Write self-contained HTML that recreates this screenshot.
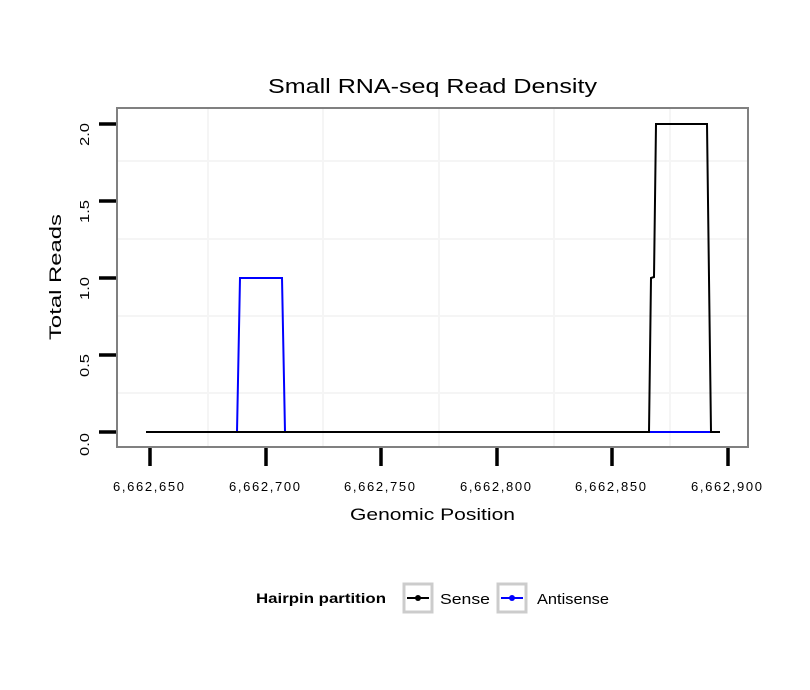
<!DOCTYPE html>
<html><head><style>body{margin:0;background:#fff}svg{display:block}text{font-family:"Liberation Sans",sans-serif}</style></head><body>
<svg width="810" height="690" xmlns="http://www.w3.org/2000/svg">
<rect width="810" height="690" fill="#fff"/>
<text x="268" y="93" font-size="20" textLength="329" lengthAdjust="spacingAndGlyphs">Small RNA-seq Read Density</text>
<g stroke="#f5f5f5" stroke-width="2">
<line x1="208" y1="108" x2="208" y2="447"/><line x1="323" y1="108" x2="323" y2="447"/><line x1="439" y1="108" x2="439" y2="447"/><line x1="554" y1="108" x2="554" y2="447"/><line x1="670" y1="108" x2="670" y2="447"/>
<line x1="117" y1="161" x2="748" y2="161"/><line x1="117" y1="239" x2="748" y2="239"/><line x1="117" y1="316" x2="748" y2="316"/><line x1="117" y1="393" x2="748" y2="393"/>
</g>
<g stroke="#000" stroke-width="3.5">
<line x1="99" y1="124" x2="117" y2="124"/><line x1="99" y1="201" x2="117" y2="201"/><line x1="99" y1="278" x2="117" y2="278"/><line x1="99" y1="355" x2="117" y2="355"/><line x1="99" y1="432" x2="117" y2="432"/>
<line x1="150" y1="448" x2="150" y2="466"/><line x1="266" y1="448" x2="266" y2="466"/><line x1="381" y1="448" x2="381" y2="466"/><line x1="497" y1="448" x2="497" y2="466"/><line x1="612" y1="448" x2="612" y2="466"/><line x1="728" y1="448" x2="728" y2="466"/>
</g>
<polyline fill="none" stroke="#00f" stroke-width="2" points="237,432 240,278 282,278 285,432"/>
<line x1="650" y1="432" x2="711" y2="432" stroke="#00f" stroke-width="2"/>
<polyline fill="none" stroke="#000" stroke-width="2" points="146,432 649,432 651,278 654,277 656,124 707,124 711,432 720,432"/>
<rect x="117" y="108" width="631" height="339" fill="none" stroke="#808080" stroke-width="2"/>
<g font-size="13">
<text transform="translate(89,146) rotate(-90)" textLength="23" lengthAdjust="spacingAndGlyphs">2.0</text>
<text transform="translate(89,223) rotate(-90)" textLength="23" lengthAdjust="spacingAndGlyphs">1.5</text>
<text transform="translate(89,300) rotate(-90)" textLength="23" lengthAdjust="spacingAndGlyphs">1.0</text>
<text transform="translate(89,377) rotate(-90)" textLength="23" lengthAdjust="spacingAndGlyphs">0.5</text>
<text transform="translate(89,456) rotate(-90)" textLength="23" lengthAdjust="spacingAndGlyphs">0.0</text>
<text x="113" y="491" textLength="71" lengthAdjust="spacing">6,662,650</text>
<text x="229" y="491" textLength="71" lengthAdjust="spacing">6,662,700</text>
<text x="344" y="491" textLength="71" lengthAdjust="spacing">6,662,750</text>
<text x="460" y="491" textLength="71" lengthAdjust="spacing">6,662,800</text>
<text x="575" y="491" textLength="71" lengthAdjust="spacing">6,662,850</text>
<text x="691" y="491" textLength="71" lengthAdjust="spacing">6,662,900</text>
</g>
<text x="350" y="520" font-size="17" textLength="165" lengthAdjust="spacingAndGlyphs">Genomic Position</text>
<text transform="translate(61,340) rotate(-90)" font-size="17" textLength="126" lengthAdjust="spacingAndGlyphs">Total Reads</text>
<text x="256" y="603" font-size="14" font-weight="bold" textLength="130" lengthAdjust="spacingAndGlyphs">Hairpin partition</text>
<rect x="404" y="584" width="28" height="28" fill="#fff" stroke="#ccc" stroke-width="3"/>
<line x1="407" y1="598" x2="429" y2="598" stroke="#000" stroke-width="2"/><circle cx="418" cy="598" r="3" fill="#000"/>
<text x="440" y="604" font-size="15" textLength="50" lengthAdjust="spacingAndGlyphs">Sense</text>
<rect x="498" y="584" width="28" height="28" fill="#fff" stroke="#ccc" stroke-width="3"/>
<line x1="501" y1="598" x2="523" y2="598" stroke="#00f" stroke-width="2"/><circle cx="512" cy="598" r="3" fill="#00f"/>
<text x="537" y="604" font-size="15" textLength="72" lengthAdjust="spacingAndGlyphs">Antisense</text>
</svg>
</body></html>
